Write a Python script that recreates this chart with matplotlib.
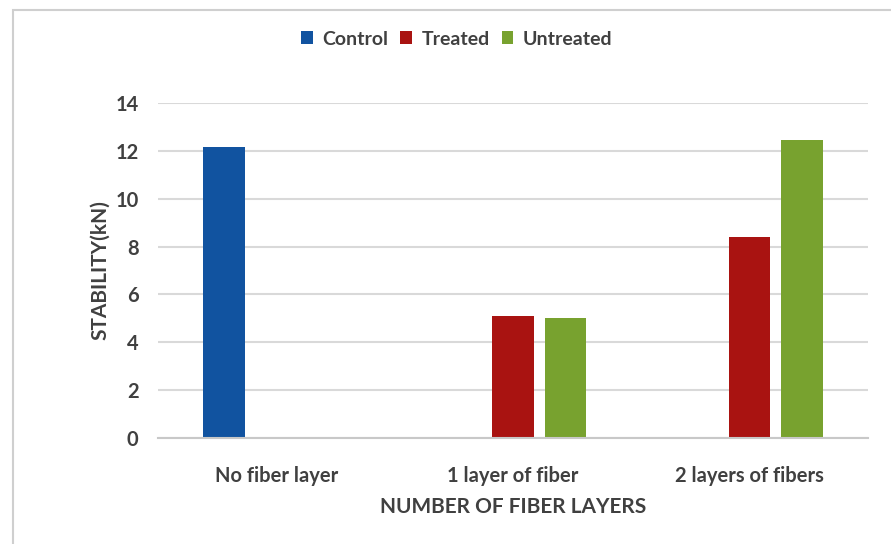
import matplotlib.pyplot as plt
import numpy as np
from matplotlib.patches import Rectangle

plt.rcParams['font.family'] = ['Lato', 'DejaVu Sans']
plt.rcParams['font.weight'] = 'bold'

# fiber layer groups and stability readings (kN)
categories = ['No fiber layer', '1 layer of fiber', '2 layers of fibers']
series = ['Control', 'Treated', 'Untreated']
control = [12.15, np.nan, np.nan]
treated = [np.nan, 5.1, 8.4]
untreated = [np.nan, 5.0, 12.45]
colors = ['#1153A0', '#A91311', '#78A22F']

text_col = '#404040'
grid_col = '#d9d9d9'

fig = plt.figure(figsize=(8.91, 5.44), dpi=100)
ax = fig.add_axes([158 / 891, 1 - 438 / 544, 710 / 891, 335 / 544])

x = np.arange(len(categories))
width = 0.174
step = 0.221
for i, (name, vals) in enumerate(zip(series, [control, treated, untreated])):
    ax.bar(x + (i - 1) * step, vals, width, color=colors[i], label=name, zorder=3)

ax.set_xlim(-0.5, 2.5)
ax.set_ylim(0, 14)
ax.set_yticks(np.arange(0, 15, 2))
ax.yaxis.grid(True, color=grid_col, linewidth=1.5, zorder=0)
for s in ['top', 'right', 'left']:
    ax.spines[s].set_visible(False)
ax.spines['bottom'].set_color('#c8c8c8')
ax.spines['bottom'].set_linewidth(1.5)
ax.spines['bottom'].set_zorder(4)

ax.set_xticks(x)
ax.set_xticklabels(categories, fontweight='bold')
for t in ax.get_yticklabels():
    t.set_fontweight('bold')
ax.tick_params(axis='both', length=0, labelsize=14.5, labelcolor=text_col)
ax.tick_params(axis='x', pad=20)
ax.tick_params(axis='y', pad=14)

ax.set_xlabel('NUMBER OF FIBER LAYERS', fontsize=15, fontweight='bold',
              color=text_col, labelpad=8)
ax.set_ylabel('STABILITY(kN)', fontsize=15, fontweight='bold',
              color=text_col, labelpad=4)

fig.legend(loc='center', bbox_to_anchor=(457 / 891, 1 - 39 / 544), ncol=3,
           frameon=False, prop={'size': 14, 'weight': 'bold'},
           labelcolor=text_col,
           handlelength=0.6, handleheight=0.6, handletextpad=0.5,
           columnspacing=0.6)

# outer chart frame
fig.patches.append(Rectangle((13 / 891, -0.05), 1.2, 1.05 - 10 / 544,
                             transform=fig.transFigure, fill=False,
                             edgecolor='#cfcfcf', linewidth=1.5))

fig.savefig('out.png', dpi=100)
